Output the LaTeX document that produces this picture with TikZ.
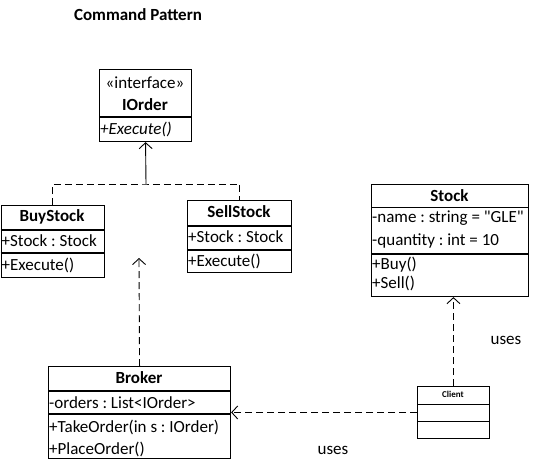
\documentclass[tikz,border=0pt]{standalone}
\usepackage{fontspec}
\setmainfont{Carlito}[Ligatures=TeXOff]
\usetikzlibrary{arrows.meta}
\frenchspacing
\tikzset{
  txt/.style={font=\fontsize{17}{20}\selectfont, inner sep=0pt},
  classbox/.style={draw, line width=1.1pt, anchor=north west, inner sep=0pt},
  classname/.style={txt, font=\fontsize{17}{20}\selectfont\bfseries},
  member/.style={txt, anchor=west},
  uses/.style={line width=.9pt, dash pattern=on 7pt off 4pt,
    -{Straight Barb[length=6pt,width=13pt]}},
}
\begin{document}
\begin{tikzpicture}[x=1pt,y=-1pt]
\useasboundingbox (0,0) rectangle (534,462);
\node[classname] (title) at (138,15) {Command Pattern};
% Interface
\node[classbox, minimum width=92pt, minimum height=72pt] (iorder) at (99,69) {};
\draw[line width=1.1pt] ([yshift=-48pt]iorder.north west) -- ([yshift=-48pt]iorder.north east);
\node[txt] (iorderst) at (145,83) {«interface»};
\node[classname] (iordername) at (145,105) {IOrder};
\node[member, font=\fontsize{17}{20}\selectfont\itshape] (iorderop) at (100,129) {+Execute()};
% BuyStock
\node[classbox, minimum width=103.5pt, minimum height=72pt] (buy) at (0.5,205) {};
\draw[line width=1.1pt] ([yshift=-25pt]buy.north west) -- ([yshift=-25pt]buy.north east);
\draw[line width=1.1pt] ([yshift=-48pt]buy.north west) -- ([yshift=-48pt]buy.north east);
\node[classname] (buyname) at (52,217) {BuyStock};
\node[member] (buyattr) at (1.5,241) {+Stock : Stock};
\node[member] (buyop) at (1.5,265) {+Execute()};
% SellStock
\node[classbox, minimum width=104pt, minimum height=72pt] (sell) at (187,200) {};
\draw[line width=1.1pt] ([yshift=-26pt]sell.north west) -- ([yshift=-26pt]sell.north east);
\draw[line width=1.1pt] ([yshift=-50pt]sell.north west) -- ([yshift=-50pt]sell.north east);
\node[classname] (sellname) at (239,212) {SellStock};
\node[member] (sellattr) at (188,237) {+Stock : Stock};
\node[member] (sellop) at (188,261) {+Execute()};
% Stock
\node[classbox, minimum width=157pt, minimum height=112pt] (stock) at (371,184) {};
\draw[line width=1.1pt] ([yshift=-23.5pt]stock.north west) -- ([yshift=-23.5pt]stock.north east);
\draw[line width=1.1pt] ([yshift=-70pt]stock.north west) -- ([yshift=-70pt]stock.north east);
\node[classname] (stockname) at (449.5,196) {Stock};
\node[member] (stockname2) at (372,218) {-name : string = "GLE"};
\node[member] (stockqty) at (372,241) {-quantity : int = 10};
\node[member] (stockbuy) at (372,265) {+Buy()};
\node[member] (stocksell) at (372,283) {+Sell()};
% Broker
\node[classbox, minimum width=182pt, minimum height=92pt] (broker) at (48,366) {};
\draw[line width=1.1pt] ([yshift=-25pt]broker.north west) -- ([yshift=-25pt]broker.north east);
\draw[line width=1.1pt] ([yshift=-48pt]broker.north west) -- ([yshift=-48pt]broker.north east);
\node[classname] (brokername) at (139,378) {Broker};
\node[member] (brokerattr) at (49,403) {-orders : List<IOrder>};
\node[member] (brokertake) at (49,427) {+TakeOrder(in s : IOrder)};
\node[member] (brokerplace) at (49,449) {+PlaceOrder()};
% Client
\node[classbox, line width=.9pt, minimum width=72pt, minimum height=52pt] (client) at (417,386) {};
\draw[line width=.9pt] ([yshift=-18pt]client.north west) -- ([yshift=-18pt]client.north east);
\draw[line width=.9pt] ([yshift=-35pt]client.north west) -- ([yshift=-35pt]client.north east);
\node[txt, font=\fontsize{9}{10}\selectfont\bfseries] (clientname) at (453,394.5) {Client};
% Realization arrows
\coordinate (junction) at (146,184);
\draw[line width=.9pt, dash pattern=on 7pt off 4pt] (buy.north) |- (junction) -| (sell.north);
\draw[line width=.9pt, -{Straight Barb[length=6pt,width=13pt]}] (junction) -- (iorder.south);
% Dependencies
\coordinate (brokertip) at (139,258);
\draw[uses] (broker.north) -- (brokertip);
\draw[uses] (client.north) -- (client.north |- stock.south);
\draw[uses] (client.west) -- (client.west -| broker.east);
\node[txt] (usesstock) at (506,340) {uses};
\node[txt] (usesbroker) at (333,450) {uses};
\end{tikzpicture}
\end{document}
